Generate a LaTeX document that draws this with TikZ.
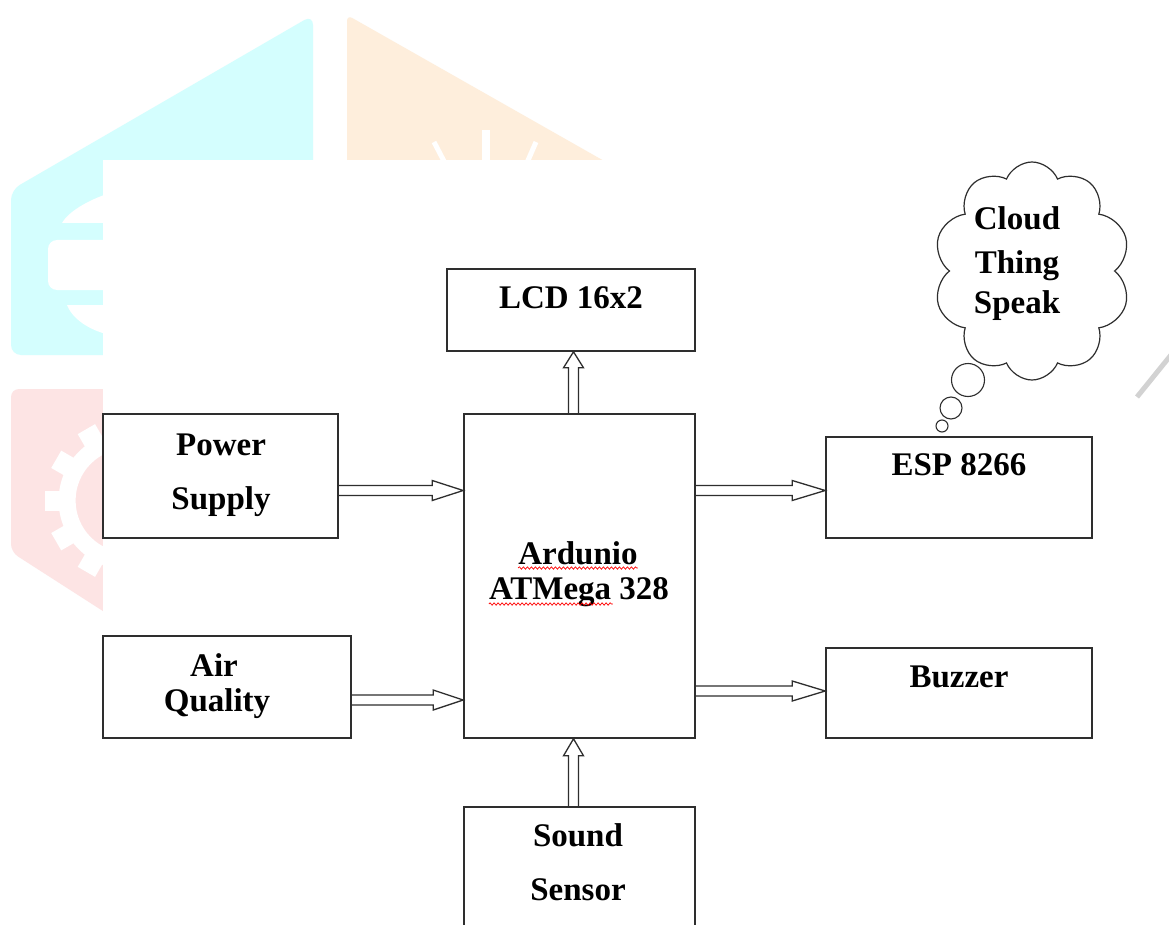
\documentclass[tikz,border=0pt]{standalone}
\usepackage{fontspec}
\setmainfont{Liberation Serif}
\usetikzlibrary{calc,shapes.symbols,decorations.pathmorphing}
\definecolor{wmcyan}{HTML}{D4FEFE}
\definecolor{wmorange}{HTML}{FEEEDC}
\definecolor{wmpink}{HTML}{FDE4E4}
\definecolor{ink}{HTML}{2E2E2E}
\tikzset{
  box/.style={draw=ink, line width=1.6pt, inner sep=0pt},
  lbl/.style={anchor=base, inner sep=0pt, font=\fontsize{33}{38}\selectfont\bfseries},
  barrow/.style={draw=ink, line width=1.3pt, line join=miter},
  squig/.style={draw=red, line width=0.7pt, decorate, decoration={snake, amplitude=1.2pt, segment length=4pt}},
  bubble/.style={circle, draw=ink, line width=1.1pt, inner sep=0pt},
  hook/.style={draw=ink, line width=1.1pt},
}
\newcommand\blockarr[3]{%
  \path ($(#2)!#3!(#1)$) coordinate (bac);
  \draw[barrow] ($(#1)!5pt!90:(#2)$) -- ($(bac)!5pt!90:(#2)$) -- ($(bac)!10pt!90:(#2)$) -- (#2)
     -- ($(bac)!10pt!-90:(#2)$) -- ($(bac)!5pt!-90:(#2)$) -- ($(#1)!5pt!-90:(#2)$);
}
\begin{document}
\begin{tikzpicture}[x=1pt,y=-1pt]
\useasboundingbox (0,0) rectangle (1169,925);
\clip (0,0) rectangle (1169,925);
\fill[white] (0,0) rectangle (1169,925);
% ---------- watermark ----------
\fill[wmcyan, rounded corners=10pt] (313,15) -- (11,190) -- (11,355) -- (313,355) -- cycle;
\fill[white] (110,193) .. controls (88,200) and (68,212) .. (62,223) -- (110,223) -- cycle;
\fill[white, rounded corners=9pt] (48,240) rectangle (125,290);
\fill[white] (67,305) -- (110,305) -- (110,335) .. controls (88,330) and (72,318) .. (67,305) -- cycle;
\fill[wmpink, rounded corners=8pt] (11,389) -- (11,552) -- (120,622) -- (130,622) -- (130,389) -- cycle;
\fill[white, even odd rule] (127.6,500.5) circle[radius=69pt] (127.6,500.5) circle[radius=52pt];
\foreach \a in {0,30,...,330}
  \fill[white, rotate around={\a:(127.6,500.5)}] (192,490.5) rectangle (210,510.5);
\fill[wmorange, rounded corners=6pt] (347,15) -- (347,170) -- (620,170) -- cycle;
\draw[white, line width=8pt] (486,130) -- (486,165);
\draw[white, line width=5pt] (434,142) -- (446,165);
\draw[white, line width=5pt] (536,142) -- (526,165);
\fill[white] (103,160) rectangle (1136,925);
\draw[gray!35, line width=5pt] (1137,397) -- (1175,350);
% ---------- boxes ----------
\node[box, minimum width=248pt, minimum height=82pt]  (lcd) at (571,310) {};
\node[box, minimum width=231pt, minimum height=324pt] (ard) at (579.5,576) {};
\node[box, minimum width=235pt, minimum height=124pt] (ps)  at (220.5,476) {};
\node[box, minimum width=248pt, minimum height=102pt] (aq)  at (227,687) {};
\node[box, minimum width=266pt, minimum height=101pt] (esp) at (959,487.5) {};
\node[box, minimum width=266pt, minimum height=90pt]  (buz) at (959,693) {};
\node[box, minimum width=231pt, minimum height=140pt] (snd) at (579.5,877) {};
% ---------- labels ----------
\node[lbl] (tlcd)  at (571,308)   {LCD 16x2};
\node[lbl] (tps1)  at (221,455.5) {Power};
\node[lbl] (tps2)  at (221,509)   {Supply};
\node[lbl] (taq1)  at (214,676)   {Air};
\node[lbl] (taq2)  at (217,711)   {Quality};
\node[lbl] (tard1) at (578,564)   {Ardunio};
\node[lbl] (tard2) at (579,599)   {ATMega 328};
\node[lbl] (tesp)  at (959,475)   {ESP 8266};
\node[lbl] (tbuz)  at (959,687)   {Buzzer};
\node[lbl] (tsnd1) at (578,846)   {Sound};
\node[lbl] (tsnd2) at (578,900)   {Sensor};
\draw[squig] ($(tard1.base west)+(0,4)$) -- ($(tard1.base east)+(0,4)$);
\draw[squig] ($(tard2.base west)+(0,5)$) -- ($(tard2.base west)+(124,5)$);
% ---------- cloud ----------
\node[cloud, draw=ink, line width=1.2pt, cloud puffs=10, cloud puff arc=135, aspect=0.9,
      minimum width=197pt, minimum height=218pt, inner sep=0pt] (cloud) at (1032,271) {};
\node[lbl] (tcl1) at (1017,230) {Cloud};
\node[lbl] (tcl2) at (1017,273) {Thing};
\node[lbl] (tcl3) at (1017,313) {Speak};
\node[bubble, minimum size=33pt] (bub1) at (968,380) {};
\node[bubble, minimum size=22pt] (bub2) at (951,408) {};
\node[bubble, minimum size=12pt] (bub3) at (942,426) {};
% ---------- arrows ----------
\coordinate (a1s) at (ps.east |- 0,490.5);
\coordinate (a1e) at (ard.west |- 0,490.5);
\coordinate (a2s) at (aq.east |- 0,700);
\coordinate (a2e) at (ard.west |- 0,700);
\coordinate (a3s) at (ard.east |- 0,490.5);
\coordinate (a3e) at (esp.west |- 0,490.5);
\coordinate (a4s) at (ard.east |- 0,691);
\coordinate (a4e) at (buz.west |- 0,691);
\coordinate (a5s) at (ard.north -| 573.5,0);
\coordinate (a5e) at (lcd.south -| 573.5,0);
\coordinate (a6s) at (snd.north -| 573.5,0);
\coordinate (a6e) at (ard.south -| 573.5,0);
\blockarr{a1s}{a1e}{31pt}
\blockarr{a2s}{a2e}{30pt}
\blockarr{a3s}{a3e}{33pt}
\blockarr{a4s}{a4e}{33pt}
\blockarr{a5s}{a5e}{16pt}
\blockarr{a6s}{a6e}{17pt}
\end{tikzpicture}
\end{document}
